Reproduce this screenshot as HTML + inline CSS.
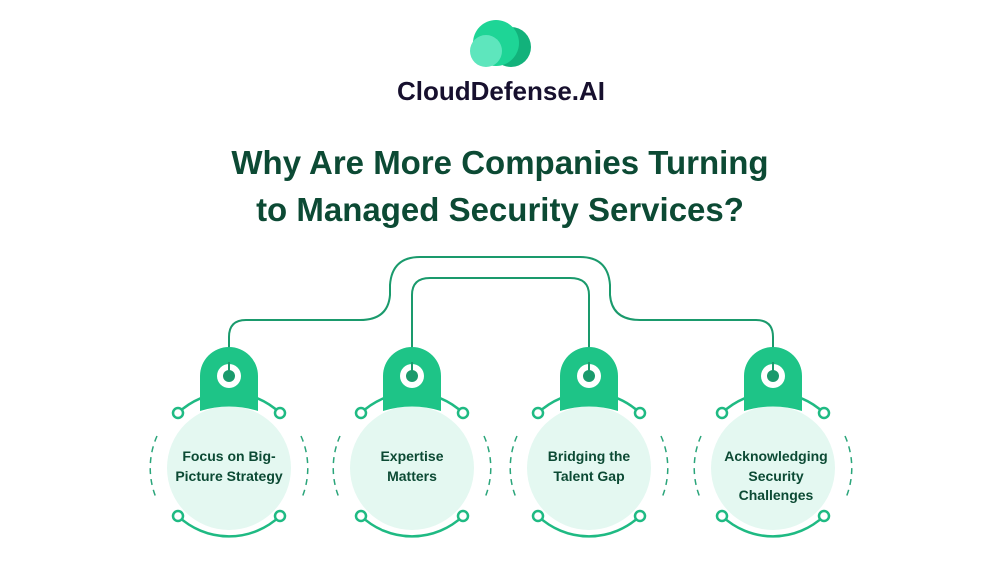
<!DOCTYPE html>
<html><head><meta charset="utf-8"><style>
body{margin:0;width:1000px;height:571px;background:#fff;overflow:hidden;font-family:"Liberation Sans",sans-serif}
</style></head><body>
<svg width="1000" height="571" viewBox="0 0 1000 571" xmlns="http://www.w3.org/2000/svg">
<circle cx="511" cy="47" r="20" fill="#12b27b"/>
<circle cx="496" cy="43" r="23" fill="#1ed596"/>
<circle cx="486" cy="51" r="16" fill="#5ee6bd"/>
<text x="501" y="100" text-anchor="middle" font-weight="bold" font-size="26" fill="#17102e">CloudDefense.AI</text>
<text x="500" y="174" text-anchor="middle" font-weight="bold" font-size="33" fill="#0c4a34">Why Are More Companies Turning</text>
<text x="500" y="221" text-anchor="middle" font-weight="bold" font-size="33" fill="#0c4a34">to Managed Security Services?</text>
<g fill="none" stroke="#1a9a6c" stroke-width="2">
<path d="M229 362 V337 Q229 320 246 320 H360 Q388 320 390 295 V285 Q392 257 420 257 H580 Q608 257 610 285 V295 Q612 320 640 320 H756 Q773 320 773 337 V362"/>
<path d="M412 362 V295 Q412 278 430 278 H570 Q589 278 589 295 V362"/>
</g>
<defs>
<g id="node">
<path d="M-51 -55 A74 74 0 0 1 51 -55" fill="none" stroke="#1fba83" stroke-width="2.5"/>
<path d="M-51 48 A74 74 0 0 0 51 48" fill="none" stroke="#1fba83" stroke-width="2.5"/>
<path d="M-72 -32 A79 79 0 0 0 -72 32 M72 -32 A79 79 0 0 1 72 32" fill="none" stroke="#2aa57a" stroke-width="1.5" stroke-dasharray="6 5"/>
<circle cx="-51" cy="-55" r="5" fill="#fff" stroke="#1fba83" stroke-width="2.5"/>
<circle cx="51" cy="-55" r="5" fill="#fff" stroke="#1fba83" stroke-width="2.5"/>
<circle cx="-51" cy="48" r="5" fill="#fff" stroke="#1fba83" stroke-width="2.5"/>
<circle cx="51" cy="48" r="5" fill="#fff" stroke="#1fba83" stroke-width="2.5"/>
<circle cx="0" cy="0" r="62" fill="#e4f8f1"/>
<path d="M-29 -57 V-92 A29 29 0 0 1 29 -92 V-57 Q0 -66 -29 -57Z" fill="#1ec487"/>
<circle cx="0" cy="-92" r="12" fill="#fff"/>
<circle cx="0" cy="-92" r="6" fill="#1a9a6c"/>
</g>
</defs>
<use href="#node" x="229" y="468"/>
<use href="#node" x="412" y="468"/>
<use href="#node" x="589" y="468"/>
<use href="#node" x="773" y="468"/>
<line x1="229" y1="362" x2="229" y2="376" stroke="#1a9a6c" stroke-width="2"/>
<line x1="412" y1="362" x2="412" y2="376" stroke="#1a9a6c" stroke-width="2"/>
<line x1="589" y1="362" x2="589" y2="376" stroke="#1a9a6c" stroke-width="2"/>
<line x1="773" y1="362" x2="773" y2="376" stroke="#1a9a6c" stroke-width="2"/>
<g font-weight="bold" font-size="14" fill="#0c4a34" text-anchor="middle">
<text x="229" y="461">Focus on Big-</text><text x="229" y="481">Picture Strategy</text>
<text x="412" y="461">Expertise</text><text x="412" y="481">Matters</text>
<text x="589" y="461">Bridging the</text><text x="589" y="481">Talent Gap</text>
<text x="776" y="461">Acknowledging</text><text x="776" y="481">Security</text><text x="776" y="500">Challenges</text>
</g>
</svg>
</body></html>
